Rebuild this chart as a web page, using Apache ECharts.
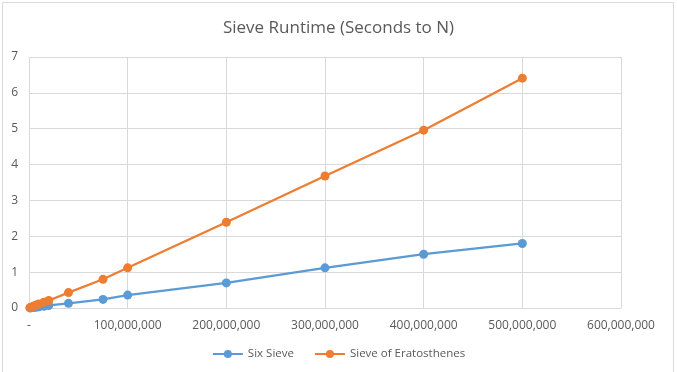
<!DOCTYPE html>
<html>
<head>
<meta charset="utf-8">
<script src="https://cdn.jsdelivr.net/npm/echarts@6/dist/echarts.min.js"></script>
<style>html,body{margin:0;padding:0;background:#fff}#c{width:677px;height:372px}</style>
</head>
<body>
<div id="c"></div>
<script>
var nValues = [1000000, 2000000, 4000000, 6000000, 8000000, 10000000, 15000000, 20000000, 40000000, 75000000, 100000000, 200000000, 300000000, 400000000, 500000000];
var sixSieve = [0.003, 0.006, 0.012, 0.018, 0.025, 0.032, 0.05, 0.07, 0.13, 0.24, 0.36, 0.70, 1.12, 1.50, 1.80];
var eratosthenes = [0.01, 0.02, 0.045, 0.07, 0.09, 0.11, 0.16, 0.21, 0.43, 0.80, 1.12, 2.39, 3.68, 4.96, 6.41];
var seriesNames = ['Six Sieve', 'Sieve of Eratosthenes'];
var titleText = 'Sieve Runtime (Seconds to N)';

function pairs(xs, ys) { return xs.map(function (x, i) { return [x, ys[i]]; }); }

var chart = echarts.init(document.getElementById('c'), null, {renderer: 'canvas'});
var font = "'Open Sans', 'Liberation Sans', sans-serif";
chart.setOption({
  animation: false,
  backgroundColor: '#fff',
  title: {
    text: titleText, left: 'center', top: 15,
    textStyle: {fontFamily: font, fontSize: 17, fontWeight: 'normal', color: '#595959'}
  },
  graphic: [{
    type: 'rect', shape: {x: 2.5, y: 2.5, width: 671, height: 380},
    style: {fill: 'none', stroke: '#d9d9d9', lineWidth: 1}, silent: true
  }],
  legend: {
    bottom: 7, left: 'center', itemGap: 20, itemWidth: 30, itemHeight: 10,
    textStyle: {fontFamily: font, fontSize: 11.5, color: '#595959'},
    data: seriesNames
  },
  grid: {left: 29, right: 56, top: 57, bottom: 64, containLabel: false},
  xAxis: {
    type: 'value', min: 0, max: 600000000, interval: 100000000,
    axisLine: {show: true, lineStyle: {color: '#d9d9d9'}},
    axisTick: {show: false},
    splitLine: {show: true, lineStyle: {color: '#d9d9d9'}},
    axisLabel: {
      color: '#595959', fontFamily: font, fontSize: 12, margin: 12,
      formatter: function (v) { return v === 0 ? '-' : v.toLocaleString('en-US'); }
    }
  },
  yAxis: {
    type: 'value', min: 0, max: 7, interval: 1,
    axisLine: {show: false}, axisTick: {show: false},
    splitLine: {show: true, lineStyle: {color: '#d9d9d9'}},
    axisLabel: {color: '#595959', fontFamily: font, fontSize: 12, margin: 11}
  },
  series: [
    {
      name: seriesNames[0], type: 'line', data: pairs(nValues, sixSieve),
      symbol: 'circle', symbolSize: 9, color: '#5B9BD5',
      lineStyle: {width: 2.25, color: '#5B9BD5'}, itemStyle: {color: '#5B9BD5'}
    },
    {
      name: seriesNames[1], type: 'line', data: pairs(nValues, eratosthenes),
      symbol: 'circle', symbolSize: 9, color: '#ED7D31',
      lineStyle: {width: 2.25, color: '#ED7D31'}, itemStyle: {color: '#ED7D31'}
    }
  ]
});
</script>
</body>
</html>
